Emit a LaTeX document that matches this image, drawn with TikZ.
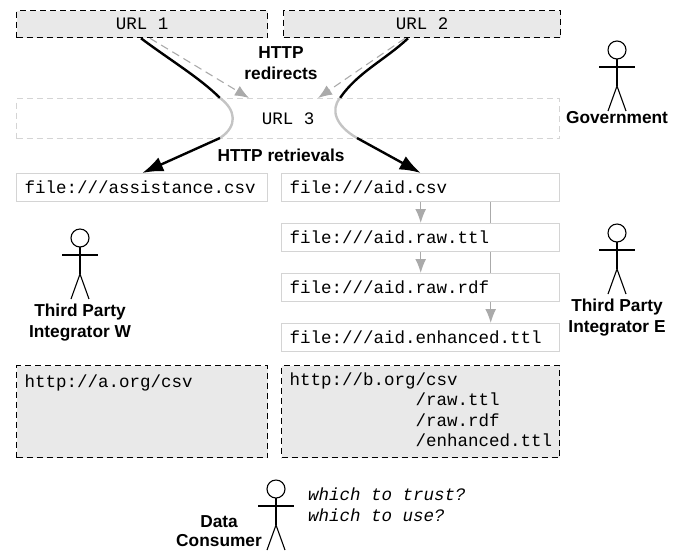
\documentclass[tikz,border=0pt]{standalone}
\usepackage{fontspec}
\setmainfont{Liberation Sans}
\setmonofont{Liberation Mono}
\usetikzlibrary{arrows.meta, positioning, calc}
\definecolor{boxFill}{HTML}{E9E9E9}
\definecolor{boxEdge}{HTML}{D4D4D4}
\definecolor{softGray}{HTML}{AAAAAA}
\definecolor{curveGray}{HTML}{C4C4C4}
\newcommand{\DrawActor}[2]{
    \draw[actorLine, shift={(#1,#2)}] (0,0) circle[radius=9];
    \draw[actorLine, shift={(#1,#2)}] (0,9) -- (0,36) (-18,17) -- (18,17);
    \draw[actorLine, shift={(#1,#2)}] (-9,61) -- (0,36) -- (9,61);
}
\tikzset{
    % Boxes
    urlBox/.style={rectangle, draw=black, dash pattern=on 6pt off 4pt, line width=1.3pt, fill=boxFill, anchor=north west,
        font=\monoText, inner sep=0pt},
    ghostBox/.style={rectangle, draw=boxEdge, dash pattern=on 6pt off 4pt, line width=1pt, anchor=north west, font=\monoText, inner sep=0pt},
    fileBox/.style={rectangle, draw=boxEdge, line width=1.4pt, fill=white, anchor=north west, font=\monoText, inner sep=0pt,
        minimum height=28pt, text width=#1-16pt, minimum width=#1, align=left},
    % Connectors
    fetchLine/.style={line width=2.4pt, draw=black},
    fetchArrow/.style={fetchLine, -{Latex[width=15pt,length=21pt]}},
    hiddenLine/.style={line width=2.4pt, draw=curveGray},
    redirectArrow/.style={line width=1.1pt, draw=softGray, dash pattern=on 8pt off 5pt, -{Latex[width=11pt,length=14pt]}},
    stepLine/.style={line width=1.3pt, draw=softGray},
    stepArrow/.style={stepLine, -{Latex[width=11pt,length=14pt]}},
    % Labels
    actorLine/.style={draw=black, line width=1.1pt},
    boldLabel/.style={font=\boldText, align=center, inner sep=0pt}
}
\newcommand{\monoText}{\ttfamily\fontsize{17.5}{20.5}\selectfont}
\newcommand{\boldText}{\bfseries\fontsize{17.3}{21}\selectfont}
\begin{document}
\begin{tikzpicture}[x=1pt, y=-1pt]
    \useasboundingbox (0,0) rectangle (676,550);

    % Top row
    \node[urlBox, minimum width=251pt, minimum height=27pt] (urlOne) at (16,10) {URL 1};
    \node[urlBox, minimum width=277pt, minimum height=27pt] (urlTwo) at (283,10) {URL 2};
    \node[ghostBox, minimum width=543pt, minimum height=40pt] (urlThree) at (16,98) {URL 3};

    % Files
    \node[fileBox=251pt] (fileAssist) at (16,173) {file:///assistance.csv};
    \node[fileBox=278pt] (fileAid) at (281,173) {file:///aid.csv};
    \node[fileBox=278pt] (fileTtl) at (281,223) {file:///aid.raw.ttl};
    \node[fileBox=278pt] (fileRdf) at (281,273) {file:///aid.raw.rdf};
    \node[fileBox=278pt] (fileEnh) at (281,323) {file:///aid.enhanced.ttl};

    % Published
    \node[urlBox, minimum width=251pt, minimum height=92pt, text width=235pt, align=left] (pubLeft) at (16,365)
        {http://a.org/csv\\\mbox{}\\\mbox{}\\\mbox{}};
    \node[urlBox, minimum width=278pt, minimum height=92pt, text width=262pt, align=left] (pubRight) at (281,365)
        {http://b.org/csv\\\phantom{http://b.org}/raw.ttl\\\phantom{http://b.org}/raw.rdf\\\phantom{http://b.org}/enhanced.ttl};

    % Redirects
    \draw[redirectArrow] (urlOne.south west)++(134,0) -- ($(urlThree.north west)+(233,0)$);
    \draw[redirectArrow] (urlTwo.south west)++(122,0) -- ($(urlThree.north west)+(302,0)$);

    % Retrievals
    \coordinate (leftIn) at (220,98);
    \coordinate (leftOut) at (220,138);
    \coordinate (rightIn) at (340,98);
    \coordinate (rightOut) at (357,138);
    \draw[fetchLine] ($(urlOne.south west)+(125,0)$) .. controls (170,60) and (200,78) .. (leftIn);
    \draw[hiddenLine] (leftIn) .. controls (236,110) and (238,126) .. (leftOut);
    \draw[fetchArrow] (leftOut) -- (fileAssist.north);
    \draw[fetchLine] ($(urlTwo.south west)+(125,0)$) .. controls (385,60) and (358,72) .. (rightIn);
    \draw[hiddenLine] (rightIn) .. controls (330,110) and (336,126) .. (rightOut);
    \draw[fetchArrow] (rightOut) -- (fileAid.north);

    % File steps
    \draw[stepArrow] (fileAid.south) -- (fileTtl.north);
    \draw[stepArrow] (fileTtl.south) -- (fileRdf.north);
    \draw[stepLine] ([xshift=70pt]fileAid.south) -- ([xshift=70pt]fileTtl.north);
    \draw[stepLine] ([xshift=70pt]fileTtl.south) -- ([xshift=70pt]fileRdf.north);
    \draw[stepArrow] ([xshift=70pt]fileRdf.south) -- ([xshift=70pt]fileEnh.north);

    % Labels
    \node[boldLabel] (redirectLabel) at (281,63) {HTTP\\redirects};
    \node[boldLabel] (retrieveLabel) at (281,155) {HTTP retrievals};
    \node[boldLabel] (govLabel) at (617,118) {Government};
    \node[boldLabel] (thirdE) at (617,318) {Third Party\\Integrator E};
    \node[boldLabel] (thirdW) at (80,323) {Third Party\\Integrator W};
    \node[boldLabel, anchor=east, align=center] (consumer) at (262,531) {Data\\[-1.5pt]Consumer};
    \node[font=\monoText\itshape, anchor=north west, align=left, inner sep=0pt] (question) at (308,488) {which to trust?\\which to use?};

    % Actors
    \DrawActor{617}{50}
    \DrawActor{617}{233}
    \DrawActor{80}{238}
    \DrawActor{276}{489}
\end{tikzpicture}
\end{document}
